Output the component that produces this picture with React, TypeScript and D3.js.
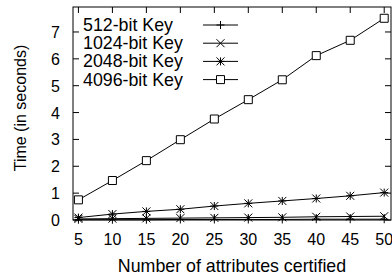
import React, { useEffect, useRef } from "react";
import * as d3 from "d3";

const attributes = [5, 10, 15, 20, 25, 30, 35, 40, 45, 50];
const key512 = [0.01, 0.01, 0.01, 0.02, 0.02, 0.02, 0.02, 0.03, 0.03, 0.03];
const key1024 = [0.04, 0.05, 0.06, 0.07, 0.08, 0.09, 0.1, 0.12, 0.13, 0.14];
const key2048 = [0.09, 0.22, 0.32, 0.4, 0.52, 0.62, 0.71, 0.8, 0.9, 1.02];
const key4096 = [0.75, 1.47, 2.21, 2.99, 3.76, 4.48, 5.22, 6.12, 6.69, 7.51];
const seriesNames = ["512-bit Key", "1024-bit Key", "2048-bit Key", "4096-bit Key"];
const seriesMarkers = ["plus", "cross", "star", "square"];
const yTicks = [0, 1, 2, 3, 4, 5, 6, 7];

const App = () => {
  const ref = useRef<SVGSVGElement | null>(null);

  useEffect(() => {
    const left = 73, right = 391, top = 7, bottom = 220;
    const font = "'Liberation Sans', Arial, sans-serif";

    const svg = d3.select(ref.current);
    svg.selectAll("*").remove();

    const x = d3.scaleLinear().domain([4.2, 51]).range([left, right]);
    const y = d3.scaleLinear().domain([0, 7.93]).range([bottom, top]);

    const allSeries = [key512, key1024, key2048, key4096];

    const drawMarker = (g: any, kind: string, cx: number, cy: number) => {
      const s = 4;
      const p = d3.path();
      if (kind === "plus" || kind === "star") {
        p.moveTo(cx - s, cy); p.lineTo(cx + s, cy);
        p.moveTo(cx, cy - s); p.lineTo(cx, cy + s);
      }
      if (kind === "cross" || kind === "star") {
        p.moveTo(cx - s, cy - s); p.lineTo(cx + s, cy + s);
        p.moveTo(cx - s, cy + s); p.lineTo(cx + s, cy - s);
      }
      if (kind === "square") {
        p.rect(cx - s, cy - s, 2 * s, 2 * s);
      }
      g.append("path")
        .attr("d", p.toString())
        .attr("fill", kind === "square" ? "white" : "none")
        .attr("stroke", "black")
        .attr("stroke-width", 1);
    };

    // ticks, inward on all four sides like gnuplot
    const tl = 6;
    attributes.forEach(v => {
      svg.append("line").attr("x1", x(v)).attr("x2", x(v)).attr("y1", bottom).attr("y2", bottom - tl)
        .attr("stroke", "black");
      svg.append("line").attr("x1", x(v)).attr("x2", x(v)).attr("y1", top).attr("y2", top + tl)
        .attr("stroke", "black");
      svg.append("text").attr("x", x(v)).attr("y", 245)
        .attr("text-anchor", "middle").attr("font-family", font).attr("font-size", 16)
        .text(v);
    });
    yTicks.forEach(v => {
      svg.append("line").attr("x1", left).attr("x2", left + tl).attr("y1", y(v)).attr("y2", y(v))
        .attr("stroke", "black");
      svg.append("line").attr("x1", right).attr("x2", right - tl).attr("y1", y(v)).attr("y2", y(v))
        .attr("stroke", "black");
      svg.append("text").attr("x", 60).attr("y", y(v) + 6)
        .attr("text-anchor", "end").attr("font-family", font).attr("font-size", 16)
        .text(v);
    });

    // legend
    seriesNames.forEach((name, i) => {
      const ly = 25 + i * 18.2;
      svg.append("text").attr("x", 83).attr("y", ly + 6)
        .attr("font-family", font).attr("font-size", 17.8).text(name);
      svg.append("line").attr("x1", 203).attr("x2", 238).attr("y1", ly).attr("y2", ly)
        .attr("stroke", "black");
      drawMarker(svg, seriesMarkers[i], 220.5, ly);
    });

    // series
    const line = d3.line<number>().x((d, i) => x(attributes[i])).y(d => y(d));
    allSeries.forEach((vals, si) => {
      svg.append("path").attr("d", line(vals)).attr("fill", "none")
        .attr("stroke", "black").attr("stroke-width", 1);
      vals.forEach((v, i) => drawMarker(svg, seriesMarkers[si], x(attributes[i]), y(v)));
    });

    // frame
    svg.append("rect").attr("x", left).attr("y", top).attr("width", right - left).attr("height", bottom - top)
      .attr("fill", "none").attr("stroke", "black").attr("stroke-width", 1);

    // axis titles
    svg.append("text").attr("x", 232).attr("y", 272)
      .attr("text-anchor", "middle").attr("font-family", font).attr("font-size", 17.8)
      .text("Number of attributes certified");
    svg.append("text")
      .attr("transform", `translate(26, 108) rotate(-90)`)
      .attr("text-anchor", "middle").attr("font-family", font).attr("font-size", 16)
      .text("Time (in seconds)");
  }, []);

  return (
    <svg ref={ref} width={392} height={276}
      style={{ position: "absolute", left: 0, top: 0, background: "white" }} />
  );
};

export default App;
